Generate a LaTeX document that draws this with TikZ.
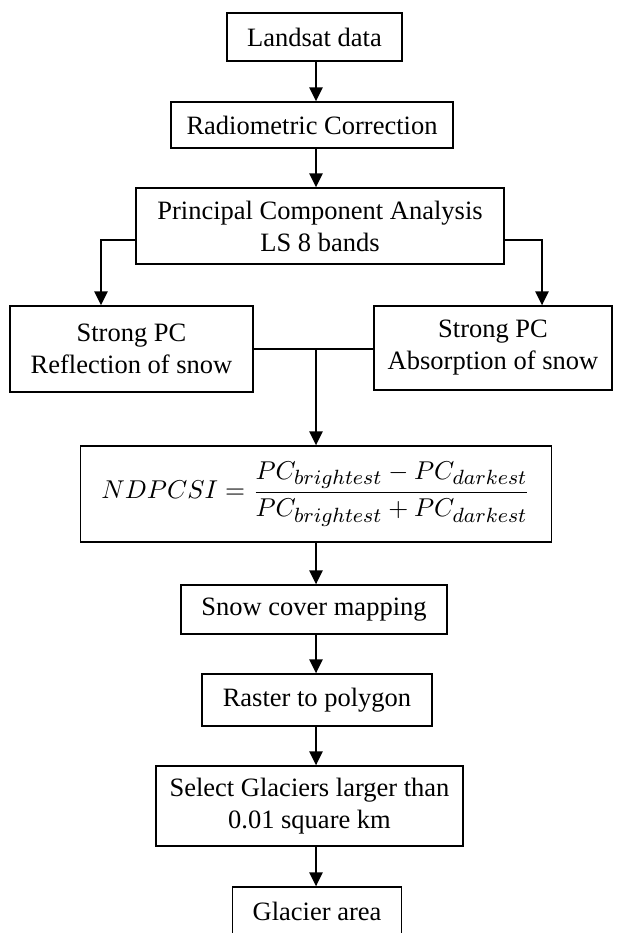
\documentclass[tikz,border=0pt]{standalone}
\usepackage{fontspec}
\setmainfont{Liberation Serif}
\usepackage{graphicx}
\DeclareMathSizes{10}{10}{8}{6}
\usetikzlibrary{arrows.meta}
\begin{document}
\begin{tikzpicture}[x=1pt,y=-1pt,
  box/.style={draw=black,line width=1.2pt,inner sep=0pt,align=center,
    font=\fontsize{26.5}{32}\selectfont},
  arr/.style={line width=2.5pt,-{Triangle[width=13pt,length=14pt]}},
  link/.style={line width=2.2pt}]
\clip (0,0) rectangle (622,933);
\useasboundingbox (0,0) rectangle (622,933);
\node[box,minimum width=175pt,minimum height=48pt] (land) at (314.5,37) {Landsat data};
\node[box,minimum width=282pt,minimum height=46pt] (radio) at (312,125) {Radiometric Correction};
\node[box,minimum width=368pt,minimum height=76pt] (pca) at (320,226) {Principal Component Analysis\\LS 8 bands};
\node[box,minimum width=243pt,minimum height=86pt] (left) at (131.5,349) {Strong PC\\Reflection of snow};
\node[box,minimum width=238pt,minimum height=84pt] (right) at (493,348) {Strong PC\\Absorption of snow};
\node[box,minimum width=471pt,minimum height=96pt] (form) at (316,494)
  {\resizebox{429pt}{!}{\normalsize$\displaystyle NDPCSI=\frac{PC_{brightest}-PC_{darkest}}{PC_{brightest}+PC_{darkest}}$}};
\node[box,minimum width=266pt,minimum height=49pt] (snow) at (314,609.5) {Snow cover mapping};
\node[box,minimum width=230pt,minimum height=52pt] (raster) at (317,700) {Raster to polygon};
\node[box,minimum width=307pt,minimum height=80pt] (select) at (309.5,806) {Select Glaciers larger than\\0.01 square km};
\node[box,minimum width=169pt,minimum height=48pt] (glac) at (317,911) {Glacier area};
% connectors
\coordinate (c1) at (316,61);
\coordinate (c2) at (316,148);
\coordinate (bl) at (101,240);
\coordinate (br) at (542,240);
\coordinate (j) at (316,349);
\coordinate (c3) at (316,542);
\coordinate (c4) at (316,634);
\coordinate (c5) at (316,726);
\coordinate (c6) at (316,846);
\draw[arr] (c1) -- (c1 |- radio.north);
\draw[arr] (c2) -- (c2 |- pca.north);
\draw[arr] (pca.west |- bl) -- (bl) -- (bl |- left.north);
\draw[arr] (pca.east |- br) -- (br) -- (br |- right.north);
\draw[link] (left.east |- j) -- (right.west |- j);
\draw[arr] (j) -- (j |- form.north);
\draw[arr] (c3) -- (c3 |- snow.north);
\draw[arr] (c4) -- (c4 |- raster.north);
\draw[arr] (c5) -- (c5 |- select.north);
\draw[arr] (c6) -- (c6 |- glac.north);
\end{tikzpicture}
\end{document}
